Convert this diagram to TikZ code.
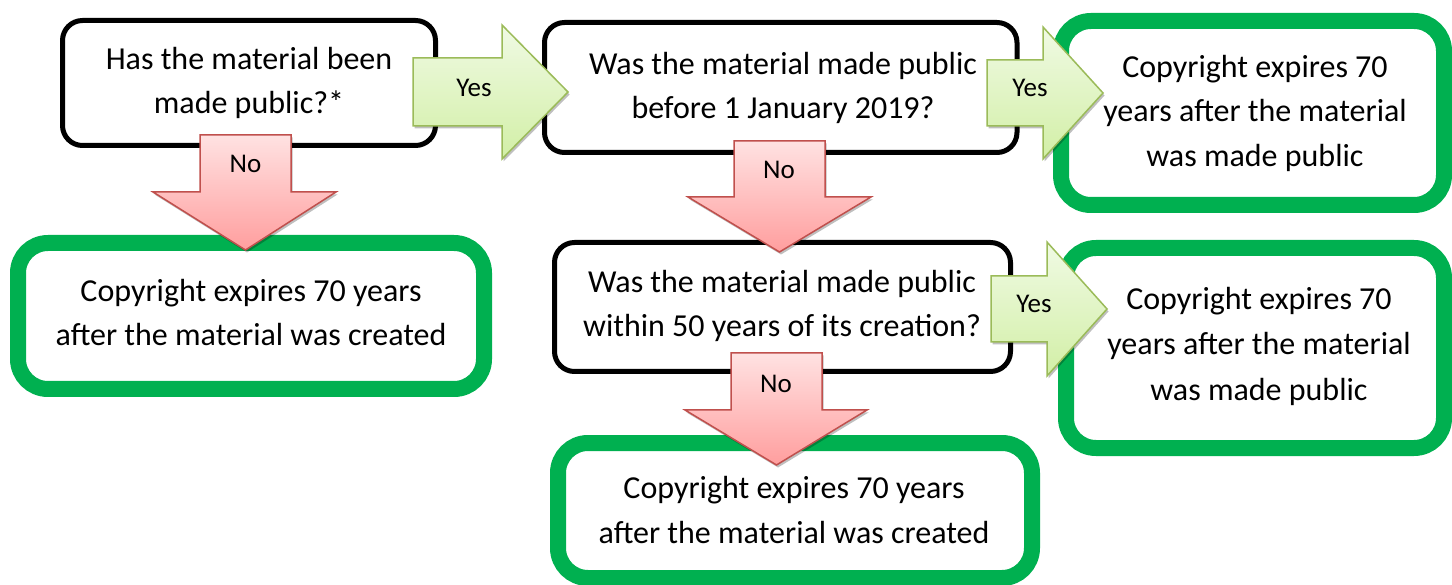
\documentclass[tikz,border=0pt]{standalone}
\usepackage{fontspec}
\setmainfont{Carlito}
\usetikzlibrary{shadows}
\definecolor{boxgreen}{HTML}{00B050}
\definecolor{yesline}{HTML}{9BBB59}
\definecolor{yestop}{HTML}{F0FAE4}
\definecolor{yesbot}{HTML}{D2EFA6}
\definecolor{noline}{HTML}{C0504D}
\definecolor{notop}{HTML}{FFE2E2}
\definecolor{nobot}{HTML}{FF9E9E}
\tikzset{
  qbox/.style={draw=black, line width=5pt, rounded corners=20pt, fill=white,
    rectangle, inner sep=0pt},
  abox/.style={draw=boxgreen, line width=16pt, rounded corners=30pt, fill=white,
    rectangle, inner sep=0pt},
  txt/.style={anchor=base, inner sep=0pt, font=\fontsize{32pt}{45pt}\selectfont},
  lbl/.style={anchor=base, inner sep=0pt, font=\fontsize{27pt}{32pt}\selectfont},
  yesarrow/.style={draw=yesline, line width=1.5pt, line join=miter,
    top color=yestop, bottom color=yesbot,
    drop shadow={shadow xshift=1.5pt, shadow yshift=-2.5pt, opacity=0.25, fill=black}},
  noarrow/.style={draw=noline, line width=1.5pt, line join=miter,
    top color=notop, bottom color=nobot,
    drop shadow={shadow xshift=1.5pt, shadow yshift=-2.5pt, opacity=0.25, fill=black}},
}
\begin{document}
\begin{tikzpicture}[x=1pt, y=-1pt]
\useasboundingbox (0,0) rectangle (1452,585);

% boxes
\node[qbox, minimum width=373pt, minimum height=125pt] (q1) at (249,83) {};
\node[qbox, minimum width=472.5pt, minimum height=130pt] (q2) at (780.75,87.5) {};
\node[abox, minimum width=383pt, minimum height=184pt] (a1) at (1252.5,113) {};
\node[abox, minimum width=466pt, minimum height=146pt] (a2) at (251,316) {};
\node[qbox, minimum width=456pt, minimum height=129pt] (q3) at (782.5,307) {};
\node[abox, minimum width=378pt, minimum height=200pt] (a3) at (1255,348) {};
\node[abox, minimum width=474pt, minimum height=135pt] (a4) at (795,510.5) {};

% texts
\node[txt] (t1a) at (249,70) {Has the material been};
\node[txt] (t1b) at (249,114) {made public?*};
\node[txt] (t2a) at (783,75) {Was the material made public};
\node[txt] (t2b) at (783,119) {before 1 January 2019?};
\node[txt] (t3a) at (1255,78) {Copyright expires 70};
\node[txt] (t3b) at (1255,122) {years after the material};
\node[txt] (t3c) at (1255,167) {was made public};
\node[txt] (t4a) at (251,302) {Copyright expires 70 years};
\node[txt] (t4b) at (251,346) {after the material was created};
\node[txt] (t5a) at (782,293) {Was the material made public};
\node[txt] (t5b) at (782,337) {within 50 years of its creation?};
\node[txt] (t6a) at (1259,310) {Copyright expires 70};
\node[txt] (t6b) at (1259,355) {years after the material};
\node[txt] (t6c) at (1259,400) {was made public};
\node[txt] (t7a) at (794,498) {Copyright expires 70 years};
\node[txt] (t7b) at (794,543) {after the material was created};

% Yes arrows
\path[yesarrow] (413,58) -- (502,58) -- (502,25) -- (568,92) -- (502,159) -- (502,126) -- (413,126) -- cycle;
\path[yesarrow] (987,60) -- (1043,60) -- (1043,27) -- (1103,93) -- (1043,159) -- (1043,126) -- (987,126) -- cycle;
\path[yesarrow] (991,276) -- (1047,276) -- (1047,242) -- (1107,309) -- (1047,376) -- (1047,342) -- (991,342) -- cycle;

% No arrows
\path[noarrow] (200,135) -- (291,135) -- (291,192) -- (336,192) -- (245.5,250) -- (153,192) -- (200,192) -- cycle;
\path[noarrow] (734,141) -- (825,141) -- (825,197) -- (871,197) -- (779.5,252) -- (688,197) -- (734,197) -- cycle;
\path[noarrow] (731,353) -- (822,353) -- (822,410) -- (867,410) -- (776.5,465) -- (685,410) -- (731,410) -- cycle;

% arrow labels
\node[lbl] (y1) at (474,97) {Yes};
\node[lbl] (y2) at (1030,97) {Yes};
\node[lbl] (y3) at (1034,313) {Yes};
\node[lbl] (n1) at (245.5,173) {No};
\node[lbl] (n2) at (779,179) {No};
\node[lbl] (n3) at (776,392) {No};
\end{tikzpicture}
\end{document}
